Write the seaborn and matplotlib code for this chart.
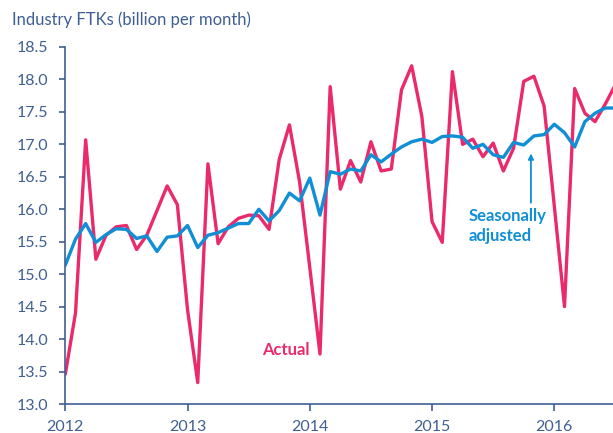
import matplotlib
matplotlib.use("Agg")
import matplotlib.pyplot as plt
import seaborn as sns
import numpy as np
import pandas as pd

# ---- data (billion FTKs per month), monthly Jan 2012 .. Jul 2016 ----
actual = [
    13.46, 14.40, 17.07, 15.23, 15.60, 15.73, 15.75, 15.38, 15.60, 15.98, 16.36, 16.07,
    14.45, 13.33, 16.70, 15.47, 15.73, 15.86, 15.91, 15.90, 15.69, 16.77, 17.30, 16.42,
    15.10, 13.77, 17.89, 16.31, 16.75, 16.42, 17.04, 16.59, 16.62, 17.84, 18.21, 17.43,
    15.81, 15.49, 18.12, 17.00, 17.08, 16.81, 17.02, 16.59, 16.94, 17.97, 18.05, 17.59,
    16.05, 14.50, 17.86, 17.48, 17.35, 17.62, 17.92,
]
seasonally_adjusted = [
    15.14, 15.54, 15.78, 15.49, 15.61, 15.70, 15.69, 15.55, 15.59, 15.35, 15.57, 15.59,
    15.75, 15.41, 15.60, 15.64, 15.71, 15.78, 15.78, 16.00, 15.82, 15.98, 16.25, 16.13,
    16.48, 15.91, 16.58, 16.54, 16.62, 16.59, 16.84, 16.73, 16.85, 16.96, 17.04, 17.08,
    17.03, 17.12, 17.13, 17.11, 16.94, 17.00, 16.84, 16.80, 17.03, 16.99, 17.13, 17.15,
    17.31, 17.18, 16.96, 17.35, 17.48, 17.56, 17.56,
]
start_year = 2012
year_ticks = [2012, 2013, 2014, 2015, 2016]
y_ticks = [13.0, 13.5, 14.0, 14.5, 15.0, 15.5, 16.0, 16.5, 17.0, 17.5, 18.0, 18.5]
title = "Industry FTKs (billion per month)"

months = np.arange(len(actual))
dates = start_year + months / 12.0
df = pd.DataFrame({"date": dates, "Actual": actual, "Seasonally adjusted": seasonally_adjusted})

PINK = "#EA2A6C"
BLUE = "#108FD6"
AXC = "#3F5F92"

sns.set_theme(style="white")
plt.rcParams["font.family"] = ["Lato", "DejaVu Sans"]

fig = plt.figure(figsize=(6.13, 4.33), dpi=100)
ax = fig.add_axes([65.3 / 613, 1 - 404 / 433, 1 - 65.3 / 613, (404 - 47) / 433])

sns.lineplot(data=df, x="date", y="Actual", ax=ax, color=PINK, lw=2.4, clip_on=True)
sns.lineplot(data=df, x="date", y="Seasonally adjusted", ax=ax, color=BLUE, lw=2.4, clip_on=True)

ax.set_xlim(2012, 2012 + (613 - 65.3) / 122.25)
ax.set_ylim(13.0, 18.5)
ax.set_xticks(year_ticks)
ax.set_xticklabels([str(y) for y in year_ticks])
ax.set_yticks(y_ticks)
ax.set_yticklabels([f"{v:.1f}" for v in y_ticks])
ax.set_xlabel("")
ax.set_ylabel("")

for s in ["top", "right"]:
    ax.spines[s].set_visible(False)
for s in ["left", "bottom"]:
    ax.spines[s].set_color(AXC)
    ax.spines[s].set_linewidth(1.2)

ax.tick_params(axis="y", direction="out", length=4.5, width=1.2, color=AXC,
               labelcolor=AXC, labelsize=11.5, pad=8, left=True)
ax.tick_params(axis="x", direction="out", length=4.8, width=1.2, color=AXC,
               labelcolor=AXC, labelsize=11.5, pad=6.5, bottom=True)
ax.grid(False)

fig.text(12 / 613, 1 - 20 / 433, title, color=AXC, fontsize=12, ha="left", va="center")

ax.text(2013.805, 13.83, "Actual", color=PINK, fontsize=12, fontweight="bold",
        ha="center", va="center")
ax.text(2015.302, 15.74, "Seasonally\nadjusted", color=BLUE, fontsize=12,
        fontweight="bold", ha="left", va="center", linespacing=1.3)
ax.annotate("", xy=(2015.809, 16.86), xytext=(2015.809, 16.10),
            arrowprops=dict(arrowstyle="-|>", color=BLUE, lw=1.3,
                            mutation_scale=8, shrinkA=0, shrinkB=0))

fig.savefig("out.png", dpi=100)
